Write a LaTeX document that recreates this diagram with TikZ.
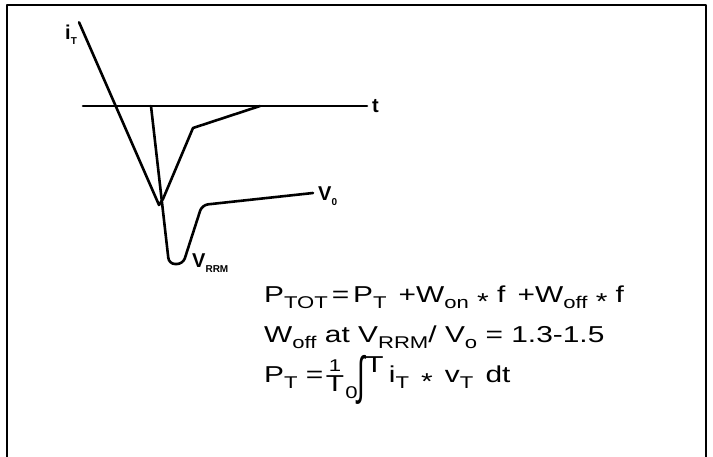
\documentclass[tikz,border=0pt]{standalone}
\usepackage{fontspec}
\setmainfont{Liberation Sans}
\newfontfamily\eqfont{Liberation Sans}[FakeStretch=1.3]
\usetikzlibrary{positioning}
\tikzset{
  every picture/.style={line join=round, line cap=round},
  frame/.style={line width=2.6pt},
  curve/.style={line width=2.6pt},
  lbl/.style={inner sep=0pt, font=\fontsize{20}{20}\selectfont\bfseries},
  eqn/.style={inner sep=0pt, font=\eqfont\fontsize{23}{23}\selectfont},
  eqsm/.style={inner sep=0pt, font=\eqfont\fontsize{17}{17}\selectfont},
}
\newcommand{\lsub}[1]{\raisebox{-0.25em}{\fontsize{10}{10}\selectfont\bfseries #1}}
\newcommand{\esub}[1]{\raisebox{-0.22em}{\fontsize{17}{17}\selectfont #1}}
\newcommand{\estar}{\raisebox{-0.3em}{*}}

\begin{document}
\begin{tikzpicture}[x=1pt,y=-1pt]
\useasboundingbox (0,0) rectangle (713,457);
% frame, open at the bottom
\draw[frame] (7,457) -- (7,5) -- (706,5) -- (706,457);
% labels of the graph
\node[lbl,anchor=base west] (iT) at (65,40) {i\lsub{T}};
\node[lbl,anchor=base west] (t) at (372,113) {t};
\node[lbl,anchor=base west] (Vo) at (318,201) {V\lsub{0}};
\node[lbl,anchor=base west] (Vrrm) at (192,268) {V\lsub{RRM}};
% time axis
\coordinate (ax0) at (83,106);
\draw[curve] (ax0) -- ([xshift=-5pt]t.west |- ax0);
% current
\draw[curve] ([shift={(2pt,3pt)}]iT.north east) -- (159,205) -- (163,199) -- (193,128) -- (260,106);
% voltage
\draw[curve,rounded corners=6pt] (151,106) -- (169,264) -- (183,264) -- (202,205) -- ([xshift=-5pt]Vo.west |- 0,193);
% formulas
\node[eqn,anchor=base west] (eq1) at (264,303)
  {P\esub{TOT}\,=\,P\esub{T} \,+W\esub{on} \estar{} f \,+W\esub{off} \estar{} f};
\node[eqn,anchor=base west] (eq2) at (264,343)
  {W\esub{off} at V\esub{RRM}/ V\esub{o} = 1.3-1.5};
\node[eqn,anchor=base west] (eq3) at (264,383) {P\esub{T} =};
\node[eqsm,anchor=base west] (num) at ([xshift=5pt]eq3.base east |- 0,372) {1};
\node[eqn,anchor=north] (den) at ([yshift=-3pt]num.south) {T};
\node[eqsm,anchor=north west] (low) at ([xshift=1pt]den.east |- 0,386) {0};
\node[eqn,anchor=west,font=\fontsize{28}{28}\selectfont] (intg) at ([xshift=-1pt]low.east |- 0,380) {\scalebox{1}[1.85]{∫}};
\node[eqn,anchor=north west] (up) at ([xshift=0pt]intg.east |- 0,356) {T};
\node[eqn,anchor=base west] (rest) at ([xshift=5pt]up.east |- 0,383) {i\esub{T}\, \estar{}\, v\esub{T}\, dt};
\end{tikzpicture}
\end{document}
